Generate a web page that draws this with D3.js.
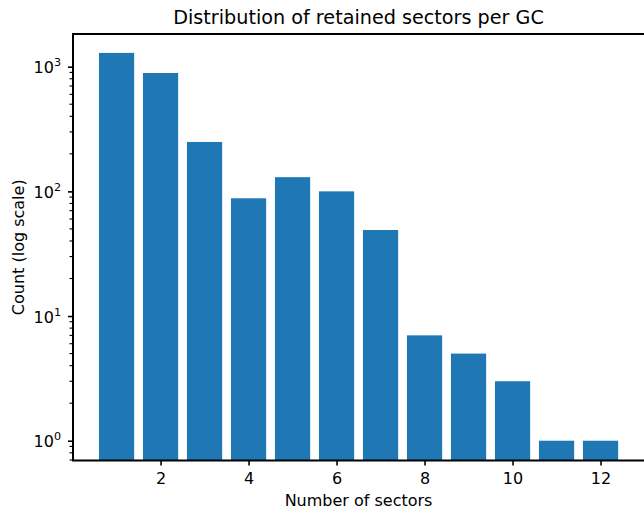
<!DOCTYPE html>
<html><head><meta charset="utf-8">
<script src="https://d3js.org/d3.v7.min.js"></script>
<style>body{margin:0;background:#fff}svg{display:block}text{font-family:"DejaVu Sans",sans-serif;fill:#000}</style>
</head><body><svg id="c" width="644" height="511"></svg>
<script>
const categories = [1,2,3,4,5,6,7,8,9,10,11,12];
const counts = [1290, 890, 249, 88, 130, 100, 49, 7, 5, 3, 1, 1];
const xTicks = [2,4,6,8,10,12];
const yTicks = [1,10,100,1000];
const yExps = ["0","1","2","3"];

const W=644,H=511;
const L=73, R=644.1, T=34, B=460.5;
const FS=16;
const svg=d3.select("#c");
const x=d3.scaleLinear().domain([0.01,12.99]).range([L,R]);
const y=d3.scaleLog().domain([0.694,1829]).range([B,T]);
const bw=x(0.8)-x(0);

svg.append("g").selectAll("rect").data(categories).join("rect")
  .attr("x",d=>x(d)-bw/2).attr("width",bw)
  .attr("y",(d,i)=>y(counts[i])).attr("height",(d,i)=>B-y(counts[i]))
  .attr("fill","#1f77b4");

// x axis
const xa=svg.append("g").attr("transform",`translate(0,${B})`)
  .call(d3.axisBottom(x).tickValues(xTicks).tickSize(5).tickPadding(0).tickFormat(d3.format("d")));
xa.select(".domain").remove();
xa.selectAll("line").attr("stroke","#000").attr("stroke-width",1.6);
xa.selectAll("text").attr("font-size",FS+"px").attr("font-family","DejaVu Sans").attr("dy",null).attr("y",23);

// y axis major
const ya=svg.append("g").attr("transform",`translate(${L},0)`)
  .call(d3.axisLeft(y).tickValues(yTicks).tickSize(5).tickFormat(""));
ya.select(".domain").remove();
ya.selectAll("line").attr("stroke","#000").attr("stroke-width",1.6);
ya.selectAll(".tick").each(function(d,i){
  const t=d3.select(this).append("text").attr("x",-12).attr("y",6).attr("text-anchor","end").attr("font-size",FS+"px");
  t.append("tspan").text("10");
  t.append("tspan").attr("font-size","11.2px").attr("dy","-7").text(yExps[i]);
});
// minor ticks
const minors=[];
for(const dec of [0.1,1,10,100,1000]){for(let k=2;k<=9;k++){const v=dec*k; if(v>=0.694&&v<=1829) minors.push(v);}}
svg.append("g").selectAll("line").data(minors).join("line")
  .attr("x1",L).attr("x2",L-3.5).attr("y1",d=>y(d)).attr("y2",d=>y(d))
  .attr("stroke","#000").attr("stroke-width",1.1);

// spines
svg.append("line").attr("x1",L).attr("x2",L).attr("y1",T).attr("y2",B).attr("stroke","#000").attr("stroke-width",2);
svg.append("line").attr("x1",L-1).attr("x2",W).attr("y1",B).attr("y2",B).attr("stroke","#000").attr("stroke-width",2);
svg.append("line").attr("x1",L-1).attr("x2",W).attr("y1",T).attr("y2",T).attr("stroke","#000").attr("stroke-width",2);

// labels
svg.append("text").attr("x",(L+R)/2).attr("y",24).attr("text-anchor","middle").attr("font-size","19.2px").text("Distribution of retained sectors per GC");
svg.append("text").attr("x",(L+R)/2).attr("y",506).attr("text-anchor","middle").attr("font-size",FS+"px").text("Number of sectors");
svg.append("text").attr("transform",`translate(24,${(T+B)/2}) rotate(-90)`).attr("text-anchor","middle").attr("font-size",FS+"px").text("Count (log scale)");
</script></body></html>
